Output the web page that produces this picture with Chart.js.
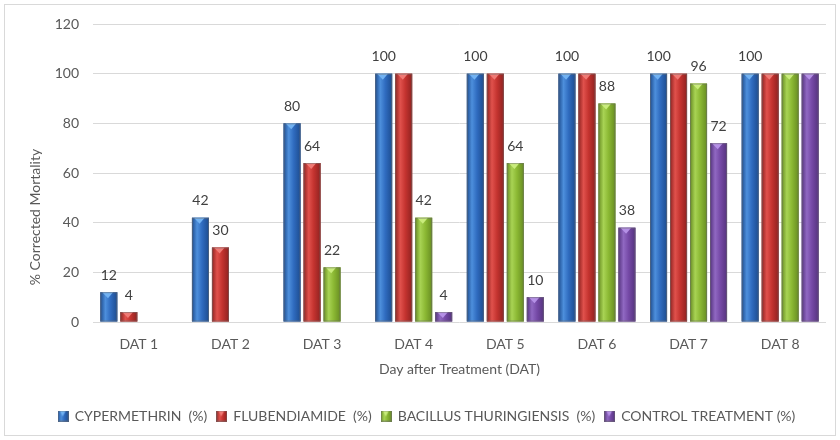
<!DOCTYPE html>
<html>
<head>
<meta charset="utf-8">
<script src="https://cdn.jsdelivr.net/npm/chart.js@4.4.1/dist/chart.umd.min.js"></script>
<style>
  html, body { margin: 0; padding: 0; background: #fff; }
  #wrap { width: 840px; height: 440px; position: relative; }
</style>
</head>
<body>
<div id="wrap"><canvas id="myChart"></canvas></div>
<script>
const days = ["DAT 1", "DAT 2", "DAT 3", "DAT 4", "DAT 5", "DAT 6", "DAT 7", "DAT 8"];
const cypermethrin = [12, 42, 80, 100, 100, 100, 100, 100];
const flubendiamide = [4, 30, 64, 100, 100, 100, 100, 100];
const bacillus = [0, 0, 22, 42, 64, 88, 96, 100];
const control = [0, 0, 0, 4, 10, 38, 72, 100];
const seriesNames = ["CYPERMETHRIN  (%)", "FLUBENDIAMIDE  (%)", "BACILLUS THURINGIENSIS  (%)", "CONTROL TREATMENT (%)"];
const yTitle = "% Corrected Mortality";
const xTitle = "Day after Treatment (DAT)";

const FONT = "Lato";
const TEXT = "#595959";

// base / light / dark / top bevel
const palette = [
  { base: "#2f6bbf", light: "#4d8fdc", dark: "#1d4c8f", top: "#72b2f2" },
  { base: "#c4332f", light: "#e0514c", dark: "#8f2220", top: "#f07a75" },
  { base: "#8bb833", light: "#a8d354", dark: "#678c22", top: "#c9ec7c" },
  { base: "#7549a6", light: "#9068c2", dark: "#55337e", top: "#b590e6" },
];

function barGradient(c, left, w, col) {
  const g = c.createLinearGradient(left, 0, left + w, 0);
  g.addColorStop(0, col.dark);
  g.addColorStop(0.3, col.light);
  g.addColorStop(0.6, col.base);
  g.addColorStop(1, col.dark);
  return g;
}

function paintBar(c, left, top, w, h, col) {
  c.save();
  c.fillStyle = barGradient(c, left, w, col);
  c.fillRect(left, top, w, h);
  // little bevel at the top
  const bev = Math.min(6, h);
  c.fillStyle = col.top;
  c.beginPath();
  c.moveTo(left + 2, top);
  c.lineTo(left + w * 0.75, top);
  c.lineTo(left + w * 0.45, top + bev);
  c.closePath();
  c.fill();
  c.strokeStyle = "rgba(110,110,110,0.55)";
  c.lineWidth = 1;
  c.strokeRect(left + 0.5, top + 0.5, w - 1, h - 1);
  c.restore();
}

function legendMarker(col) {
  const cv = document.createElement("canvas");
  cv.width = 11;
  cv.height = 11;
  paintBar(cv.getContext("2d"), 0, 0, 11, 11, col);
  return cv;
}

const frame = {
  id: "frame",
  beforeDraw(chart) {
    const c = chart.ctx;
    c.save();
    c.fillStyle = "#fff";
    c.fillRect(0, 0, chart.width, chart.height);
    c.strokeStyle = "#d9d9d9";
    c.strokeRect(4.5, 4.5, chart.width - 9, chart.height - 9);
    // y axis title, drawn by hand so it can sit like the original
    c.translate(35, 217);
    c.rotate(-Math.PI / 2);
    c.font = "14px " + FONT;
    c.fillStyle = TEXT;
    c.textAlign = "center";
    c.textBaseline = "middle";
    c.fillText(yTitle, 0, 0);
    c.restore();
  },
};

const bars3d = {
  id: "bars3d",
  afterDatasetsDraw(chart) {
    const c = chart.ctx;
    chart.data.datasets.forEach((ds, i) => {
      const meta = chart.getDatasetMeta(i);
      meta.data.forEach((el, j) => {
        if (!ds.data[j]) return;
        const p = el.getProps(["x", "y", "base", "width"], true);
        paintBar(c, p.x - p.width / 2, p.y, p.width, p.base - p.y, palette[i]);
      });
    });

    // value labels, Excel style: skip the ones that would overlap
    c.save();
    c.font = "14px " + FONT;
    c.fillStyle = "#404040";
    c.textAlign = "center";
    c.textBaseline = "middle";
    const boxes = [];
    chart.data.datasets.forEach((ds, i) => {
      const meta = chart.getDatasetMeta(i);
      meta.data.forEach((el, j) => {
        const v = ds.data[j];
        if (!v) return;
        const txt = String(v);
        const w = c.measureText(txt).width;
        const cx = el.x;
        const cy = el.y - 17;
        const box = { l: cx - w / 2 + 1, r: cx + w / 2 - 1, t: cy - 7, b: cy + 7 };
        const hit = boxes.some((o) => box.l < o.r && box.r > o.l && box.t < o.b && box.b > o.t);
        boxes.push(box);
        if (!hit) c.fillText(txt, cx, cy);
      });
    });
    c.restore();
  },
};

const series = [cypermethrin, flubendiamide, bacillus, control];

const chart = new Chart(document.getElementById("myChart"), {
  type: "bar",
  data: {
    labels: days,
    datasets: series.map((d, i) => ({
      label: seriesNames[i],
      data: d,
      backgroundColor: palette[i].base,
      borderWidth: 0,
      categoryPercentage: 0.873,
      barPercentage: 0.85,
    })),
  },
  options: {
    responsive: true,
    maintainAspectRatio: false,
    animation: false,
    layout: { padding: { left: 28, right: 14, top: 24, bottom: 7 } },
    plugins: {
      tooltip: { enabled: false },
      legend: {
        position: "bottom",
        labels: {
          usePointStyle: true,
          pointStyleWidth: 9,
          padding: 10,
          color: TEXT,
          font: { family: FONT, size: 14 },
          generateLabels(ch) {
            return ch.data.datasets.map((ds, i) => ({
              text: ds.label,
              fillStyle: palette[i].base,
              strokeStyle: palette[i].base,
              lineWidth: 0,
              pointStyle: legendMarker(palette[i]),
              fontColor: TEXT,
              hidden: false,
              datasetIndex: i,
            }));
          },
        },
      },
    },
    scales: {
      x: {
        grid: { display: false },
        border: { display: false },
        ticks: { color: TEXT, font: { family: FONT, size: 14 }, padding: 6 },
        title: {
          display: true,
          text: xTitle,
          color: TEXT,
          font: { family: FONT, size: 14 },
          padding: { top: 0, bottom: 21 },
        },
        afterFit(s) { s.height = 77; },
      },
      y: {
        min: 0,
        max: 120,
        ticks: { stepSize: 20, color: TEXT, font: { family: FONT, size: 14 }, padding: 14 },
        grid: { color: "#d9d9d9", drawTicks: false },
        border: { display: false },
        afterFit(s) { s.width = 65; },
      },
    },
  },
  plugins: [frame, bars3d],
});
</script>
</body>
</html>
